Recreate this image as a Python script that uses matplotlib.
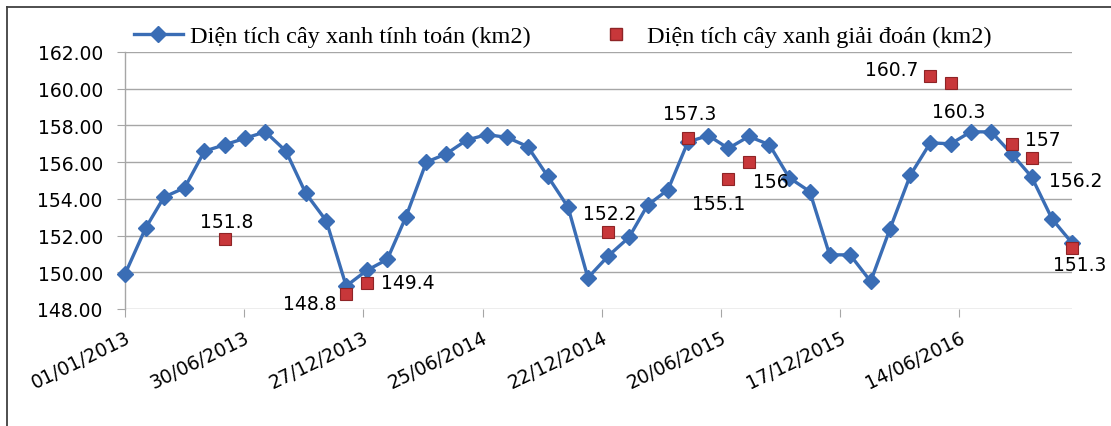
import matplotlib
matplotlib.use("Agg")
import matplotlib.pyplot as plt
import matplotlib.dates as mdates
from matplotlib.lines import Line2D
from datetime import datetime

# ---- data ----
months = [
    "2013-01", "2013-02", "2013-03", "2013-04", "2013-05", "2013-06",
    "2013-07", "2013-08", "2013-09", "2013-10", "2013-11", "2013-12",
    "2014-01", "2014-02", "2014-03", "2014-04", "2014-05", "2014-06",
    "2014-07", "2014-08", "2014-09", "2014-10", "2014-11", "2014-12",
    "2015-01", "2015-02", "2015-03", "2015-04", "2015-05", "2015-06",
    "2015-07", "2015-08", "2015-09", "2015-10", "2015-11", "2015-12",
    "2016-01", "2016-02", "2016-03", "2016-04", "2016-05", "2016-06",
    "2016-07", "2016-08", "2016-09", "2016-10", "2016-11", "2016-12",
]
computed = [
    149.9, 152.4, 154.1, 154.6, 156.6, 156.95,
    157.3, 157.65, 156.6, 154.3, 152.8, 149.25,
    150.1, 150.7, 153.0, 156.0, 156.45, 157.2,
    157.5, 157.35, 156.85, 155.25, 153.55, 149.7,
    150.9, 151.9, 153.65, 154.5, 157.1, 157.45,
    156.75, 157.4, 156.95, 155.15, 154.4, 150.95,
    150.95, 149.5, 152.35, 155.3, 157.05, 157.0,
    157.65, 157.65, 156.45, 155.2, 152.9, 151.6,
]

interp_months = ["2013-06", "2013-12", "2014-01", "2015-01", "2015-05", "2015-07",
                 "2015-08", "2016-05", "2016-06", "2016-09", "2016-10", "2016-12"]
interp_values = [151.8, 148.8, 149.4, 152.2, 157.3, 155.1,
                 156.0, 160.7, 160.3, 157.0, 156.2, 151.3]
interp_labels = ["151.8", "148.8", "149.4", "152.2", "157.3", "155.1",
                 "156", "160.7", "160.3", "157", "156.2", "151.3"]

tick_labels = ["01/01/2013", "30/06/2013", "27/12/2013", "25/06/2014",
               "22/12/2014", "20/06/2015", "17/12/2015", "14/06/2016"]

series_names = ["Diện tích cây xanh tính toán (km2)",
                "Diện tích cây xanh giải đoán (km2)"]

# ---- styling (label offsets in pixels) ----
label_offsets = [(2, 18, "center"), (-10, -9, "right"), (14, 1, "left"),
                 (1, 18, "center"), (2, 25, "center"), (-10, -25, "center"),
                 (4, -19, "left"), (-12, 6, "right"), (8, -28, "center"),
                 (13, 4, "left"), (17, -22, "left"), (8, -16, "center")]

BLUE = "#3A6DB5"
RED = "#C8373A"
RED_EDGE = "#8E2426"
GRID = "#A6A6A6"

W, H = 1111, 427
fig = plt.figure(figsize=(W / 100, H / 100), dpi=100)
ax = fig.add_axes([125 / W, 1 - 310 / H, (1072 - 125) / W, (310 - 53) / H])

x_comp = [mdates.date2num(datetime.strptime(m + "-01", "%Y-%m-%d")) for m in months]
x_int = [mdates.date2num(datetime.strptime(m + "-01", "%Y-%m-%d")) for m in interp_months]
x_ticks = [mdates.date2num(datetime.strptime(t, "%d/%m/%Y")) for t in tick_labels]

ax.plot(x_comp, computed, color=BLUE, lw=2.4, marker="D", markersize=8,
        markerfacecolor=BLUE, markeredgecolor=BLUE, zorder=3, clip_on=False)
ax.plot(x_int, interp_values, ls="none", marker="s", markersize=9,
        markerfacecolor=RED, markeredgecolor=RED_EDGE, markeredgewidth=0.8,
        zorder=4, clip_on=False)

px2pt = 72 / 100
for xv, yv, lab, (dx, dy, ha) in zip(x_int, interp_values, interp_labels, label_offsets):
    ax.annotate(lab, (xv, yv), xytext=(dx * px2pt, dy * px2pt), textcoords="offset points",
                ha=ha, va="center", fontsize=13.5, color="black", zorder=5)

ax.set_xlim(x_comp[0], x_comp[-1])
ax.set_ylim(148, 162)
yt = [148, 150, 152, 154, 156, 158, 160, 162]
ax.set_yticks(yt)
ax.set_yticklabels([f"{v:.2f}" for v in yt])
ax.set_xticks(x_ticks)
ax.set_xticklabels(tick_labels, rotation=26, ha="right", va="top", rotation_mode="anchor")

ax.grid(axis="y", color=GRID, lw=1.0)
ax.set_axisbelow(True)
for s in ["top", "right", "bottom"]:
    ax.spines[s].set_visible(False)
ax.spines["left"].set_color(GRID)
ax.spines["left"].set_linewidth(1.0)
ax.tick_params(axis="y", length=6, color=GRID, labelsize=13.5, pad=10)
ax.tick_params(axis="x", length=6, color=GRID, labelsize=13.5, pad=7)
ax.set_facecolor("white")

handles = [Line2D([0], [0], color=BLUE, lw=2.4, marker="D", markersize=8),
           Line2D([0], [0], ls="none", marker="s", markersize=9,
                  markerfacecolor=RED, markeredgecolor=RED_EDGE)]
fig.legend(handles, series_names, loc="center", bbox_to_anchor=(563 / W, 1 - 37 / H),
           ncol=2, frameon=False, prop={"family": "Liberation Serif", "size": 17.5},
           handlelength=2.0, handletextpad=0.3, columnspacing=2.5)

# outer chart border (top and left visible)
fig.add_artist(Line2D([7 / W, 1.0], [1 - 8 / H, 1 - 8 / H], color="#404040", lw=1.3,
                      transform=fig.transFigure))
fig.add_artist(Line2D([7 / W, 7 / W], [0, 1 - 8 / H], color="#404040", lw=1.3,
                      transform=fig.transFigure))

fig.savefig("out.png", dpi=100, facecolor="white")
